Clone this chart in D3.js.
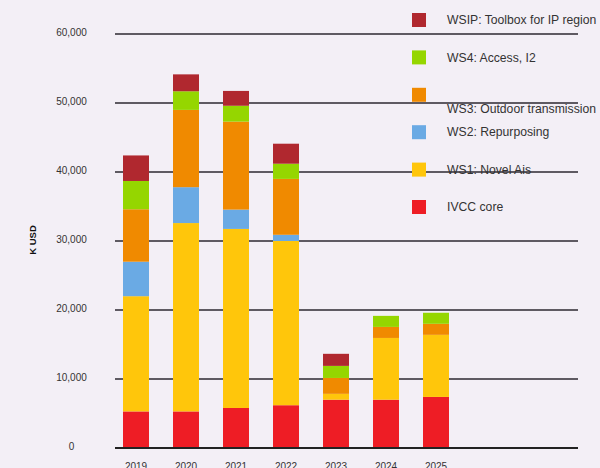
<!DOCTYPE html>
<html>
<head>
<meta charset="utf-8">
<script src="https://cdn.jsdelivr.net/npm/d3@7"></script>
<style>
  html, body { margin: 0; padding: 0; background: #f3eff6; }
  svg { display: block; font-family: "Liberation Sans", Arial, sans-serif; }
</style>
</head>
<body>
<div id="chart"></div>
<script>
// Data (K USD per year, per workstream)
const years = ["2019", "2020", "2021", "2022", "2023", "2024", "2025"];
const seriesNames = ["IVCC core", "WS1: Novel Ais", "WS2: Repurposing", "WS3: Outdoor transmission", "WS4: Access, I2", "WSIP: Toolbox for IP region"];
const ivccCore = [5300, 5300, 5800, 6200, 7000, 7000, 7400];
const ws1 = [16700, 27300, 25950, 23800, 850, 8950, 9000];
const ws2 = [5000, 5200, 2800, 900, 0, 0, 0];
const ws3 = [7600, 11200, 12750, 8100, 2300, 1600, 1600];
const ws4 = [4100, 2700, 2300, 2200, 1750, 1600, 1600];
const wsip = [3700, 2450, 2150, 2900, 1750, 0, 0];
const yTicks = [0, 10000, 20000, 30000, 40000, 50000, 60000];

const colors = ["#ee1d25", "#ffc60b", "#6aaae4", "#f08a00", "#95d600", "#b0282f"];

const width = 600, height = 468;

// Build rows for the stack
const seriesValues = [ivccCore, ws1, ws2, ws3, ws4, wsip];
const rows = years.map((y, i) => {
    const row = { year: y };
    seriesNames.forEach((s, j) => { row[s] = seriesValues[j][i]; });
    return row;
});
const stacked = d3.stack().keys(seriesNames)(rows);

const svg = d3.select("#chart")
    .append("svg")
    .attr("width", width)
    .attr("height", height);

// Scales
const x = d3.scaleBand()
    .domain(years)
    .range([111, 461])
    .paddingInner(0.48)
    .paddingOuter(0.24);

const y = d3.scaleLinear()
    .domain([0, 60000])
    .range([448, 34]);

const color = d3.scaleOrdinal().domain(seriesNames).range(colors);

// Gridlines
svg.append("g")
    .selectAll("line")
    .data(yTicks)
    .enter()
    .append("line")
    .attr("x1", 115)
    .attr("x2", 578)
    .attr("y1", d => y(d))
    .attr("y2", d => y(d))
    .attr("stroke", d => d === 0 ? "#222" : "#5e5a62")
    .attr("stroke-width", 2);

// Y tick labels
svg.append("g")
    .selectAll("text")
    .data(yTicks)
    .enter()
    .append("text")
    .attr("x", 71.5)
    .attr("y", d => y(d) - 1)
    .attr("dy", "0.32em")
    .attr("text-anchor", "middle")
    .attr("font-size", "10px")
    .attr("fill", "#333")
    .text(d => d3.format(",")(d));

// Y axis title
svg.append("text")
    .attr("transform", "translate(36,240) rotate(-90)")
    .attr("text-anchor", "middle")
    .attr("font-size", "9.5px")
    .attr("font-weight", "bold")
    .attr("fill", "#111")
    .text("K USD");

// Bars
svg.append("g")
    .selectAll("g")
    .data(stacked)
    .enter()
    .append("g")
    .attr("fill", d => color(d.key))
    .selectAll("rect")
    .data(d => d)
    .enter()
    .append("rect")
    .attr("x", d => x(d.data.year))
    .attr("width", x.bandwidth())
    .attr("y", d => y(d[1]))
    .attr("height", d => y(d[0]) - y(d[1]));

// Redraw baseline over bars
svg.append("line")
    .attr("x1", 115)
    .attr("x2", 578)
    .attr("y1", y(0))
    .attr("y2", y(0))
    .attr("stroke", "#222")
    .attr("stroke-width", 2);

// X labels
svg.append("g")
    .selectAll("text")
    .data(years)
    .enter()
    .append("text")
    .attr("x", d => x(d) + x.bandwidth() / 2)
    .attr("y", 470)
    .attr("text-anchor", "middle")
    .attr("font-size", "10px")
    .attr("fill", "#333")
    .text(d => d);

// Legend (top entry first)
const legendOrder = seriesNames.slice().reverse();
const legend = svg.append("g")
    .selectAll("g")
    .data(legendOrder)
    .enter()
    .append("g")
    .attr("transform", (d, i) => "translate(412," + (13 + i * 37.4) + ")");

legend.append("rect")
    .attr("width", 14)
    .attr("height", 14)
    .attr("fill", d => color(d));

legend.append("text")
    .attr("x", 35)
    .attr("y", d => d === "WS3: Outdoor transmission" ? 21 : 7)
    .attr("dy", "0.35em")
    .attr("font-size", "12.2px")
    .attr("fill", "#333")
    .text(d => d);
</script>
</body>
</html>
